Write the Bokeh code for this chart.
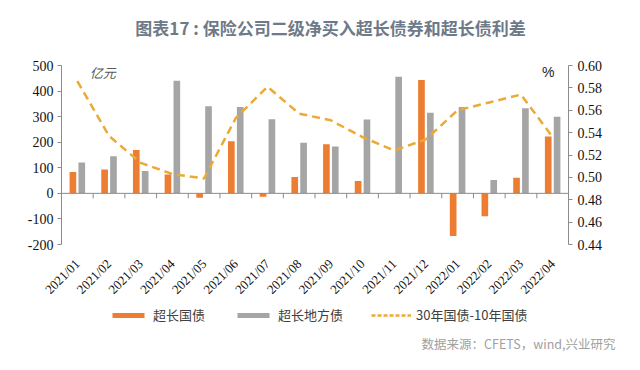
import math
from bokeh.plotting import figure
from bokeh.layouts import column
from bokeh.models import (Range1d, LinearAxis, FixedTicker, ColumnDataSource,
                          Legend, LegendItem, Label, Span, Title)
from bokeh.transform import dodge
from bokeh.embed import file_html
from bokeh.resources import INLINE

months = ["2021/01", "2021/02", "2021/03", "2021/04", "2021/05", "2021/06", "2021/07", "2021/08",
          "2021/09", "2021/10", "2021/11", "2021/12", "2022/01", "2022/02", "2022/03", "2022/04"]
ultra_long_govt = [84, 93, 170, 74, -17, 204, -13, 64, 192, 48, 0, 443, -167, -90, 61, 222]
ultra_long_local = [121, 145, 87, 440, 341, 338, 290, 198, 183, 289, 456, 315, 338, 52, 333, 300]
spread_30y_10y = [0.586, 0.537, 0.513, 0.503, 0.499, 0.553, 0.581, 0.557, 0.551, 0.536,
                  0.524, 0.534, 0.560, 0.567, 0.574, 0.536]

left_ticks = [-200, -100, 0, 100, 200, 300, 400, 500]
right_ticks = [0.44, 0.46, 0.48, 0.50, 0.52, 0.54, 0.56, 0.58, 0.60]

title_text = "图表17 : 保险公司二级净买入超长债券和超长债利差"
source_text = "数据来源：CFETS，wind,兴业研究"
series_names = ["超长国债", "超长地方债", "30年国债-10年国债"]

ORANGE = "#ED7D31"
GRAY = "#A5A5A5"
GOLD = "#EBAA35"
AXIS = "#8C8C8C"
SERIF = "Liberation Serif"
CJK = "Noto Sans CJK SC"

W = 640
LEFT, RIGHT = 61, 72
FRAME_W, FRAME_H = W - LEFT - RIGHT, 179
H0, TOP1, H2 = 45, 20, 67

n = len(months)
px_per_cat = FRAME_W / n
xs = [i + 0.5 for i in range(n)]
src = ColumnDataSource(dict(x=xs, govt=ultra_long_govt, local=ultra_long_local, spread=spread_30y_10y))


def strip(h, bottom=0):
    f = figure(width=W, height=h, output_backend="svg", toolbar_location=None,
               x_range=Range1d(0, n), y_range=Range1d(0, 1), x_axis_location=None, y_axis_location=None,
               min_border_left=LEFT, min_border_right=RIGHT, min_border_top=0, min_border_bottom=bottom)
    f.outline_line_color = None
    f.grid.visible = False
    f.background_fill_color = "white"
    f.border_fill_color = "white"
    return f


# --- title strip
p0 = strip(H0)
p0.add_layout(Label(x=(330 - LEFT) / px_per_cat, y=H0 - 27, y_units="screen", text=title_text,
                    text_font=CJK, text_font_size="17px", text_color="#6E7A88",
                    text_font_style="bold", text_align="center", text_baseline="middle"))

# --- main chart
p = figure(frame_width=FRAME_W, frame_height=FRAME_H, output_backend="svg", toolbar_location=None,
           x_range=Range1d(0, n), y_range=Range1d(left_ticks[0], left_ticks[-1]),
           x_axis_location=None, y_axis_location=None,
           min_border_left=LEFT, min_border_right=RIGHT, min_border_top=TOP1, min_border_bottom=0)
p.outline_line_color = None
p.grid.visible = False
p.background_fill_color = "white"
p.border_fill_color = "white"
p.extra_y_ranges = {"r": Range1d(right_ticks[0], right_ticks[-1])}
l_per_px = (left_ticks[-1] - left_ticks[0]) / FRAME_H

ly = LinearAxis(ticker=FixedTicker(ticks=left_ticks))
ly.major_label_overrides = {t: str(t) for t in left_ticks}
ly.axis_line_color = AXIS
ly.major_tick_line_color = AXIS
ly.major_tick_in = 0
ly.major_tick_out = 4
ly.minor_tick_line_color = None
ly.major_label_text_font = SERIF
ly.major_label_text_font_size = "14px"
ly.major_label_text_color = "#111111"
ly.major_label_standoff = 4
p.add_layout(ly, "left")

ry = LinearAxis(y_range_name="r", ticker=FixedTicker(ticks=right_ticks))
ry.major_label_overrides = {t: f"{t:.2f}" for t in right_ticks}
ry.axis_line_color = AXIS
ry.major_tick_line_color = AXIS
ry.major_tick_in = 0
ry.major_tick_out = 4
ry.minor_tick_line_color = None
ry.major_label_text_font = SERIF
ry.major_label_text_font_size = "14px"
ry.major_label_text_color = "#111111"
ry.major_label_standoff = 5
p.add_layout(ry, "right")

bx = LinearAxis(ticker=FixedTicker(ticks=xs))
bx.major_label_overrides = {x: m for x, m in zip(xs, months)}
bx.axis_line_color = None
bx.major_tick_line_color = None
bx.minor_tick_line_color = None
bx.major_label_orientation = math.pi / 4
bx.major_label_text_font = SERIF
bx.major_label_text_font_size = "13px"
bx.major_label_text_color = "#111111"
bx.major_label_standoff = 11
p.add_layout(bx, "below")

p.add_layout(Span(location=0, dimension="width", line_color=AXIS, line_width=1))
bounds = list(range(n + 1))
p.segment(x0=bounds, y0=[0] * len(bounds), x1=bounds, y1=[-5 * l_per_px] * len(bounds),
          line_color=AXIS, line_width=1)

p.vbar(x=dodge("x", -0.14, range=p.x_range), top="govt", width=0.21, source=src,
       fill_color=ORANGE, line_color=None)
p.vbar(x=dodge("x", 0.14, range=p.x_range), top="local", width=0.21, source=src,
       fill_color=GRAY, line_color=None)
p.line(x="x", y="spread", source=src, y_range_name="r", line_color=GOLD,
       line_width=2.5, line_dash="8 5")

p.add_layout(Label(x=1.3, y=474, text="亿元", text_font=CJK, text_font_size="13px",
                   text_color="#595959", text_align="center", text_baseline="middle",
                   text_font_style="italic"))
p.add_layout(Label(x=15.36, y=0.594, y_range_name="r", text="%", text_font="Liberation Sans",
                   text_font_size="14px", text_color="#222222", text_align="center",
                   text_baseline="middle"))

# --- legend + source strip
LEG_FRAME = 26
p2 = strip(H2, bottom=H2 - LEG_FRAME)
g1 = p2.vbar(x="x", top="govt", width=0.21, source=src, fill_color=ORANGE, line_color=None, visible=False)
g2 = p2.vbar(x="x", top="local", width=0.21, source=src, fill_color=GRAY, line_color=None, visible=False)
g3 = p2.line(x="x", y="spread", source=src, line_color=GOLD, line_width=2.5, line_dash="4 2", visible=False)
legend = Legend(items=[LegendItem(label=series_names[0], renderers=[g1]),
                       LegendItem(label=series_names[1], renderers=[g2]),
                       LegendItem(label=series_names[2], renderers=[g3])],
                orientation="horizontal", location=(108 - LEFT, LEG_FRAME - 3 - 16),
                glyph_width=40, glyph_height=6, label_standoff=5, spacing=28,
                padding=0, margin=0, border_line_color=None, background_fill_alpha=0,
                inactive_fill_alpha=0,
                label_text_font=CJK, label_text_font_size="13px", label_text_color="#404040",
                label_height=16)
p2.add_layout(legend)
p2.add_layout(Title(text=source_text, align="right", offset=-(615 - (W - RIGHT)),
                    text_font=CJK, text_font_size="12.5px", text_color="#A0A0A0",
                    text_font_style="normal", standoff=0), "below")

layout = column(p0, p, p2, spacing=0)
open("out.html", "w").write(file_html(layout, INLINE))
